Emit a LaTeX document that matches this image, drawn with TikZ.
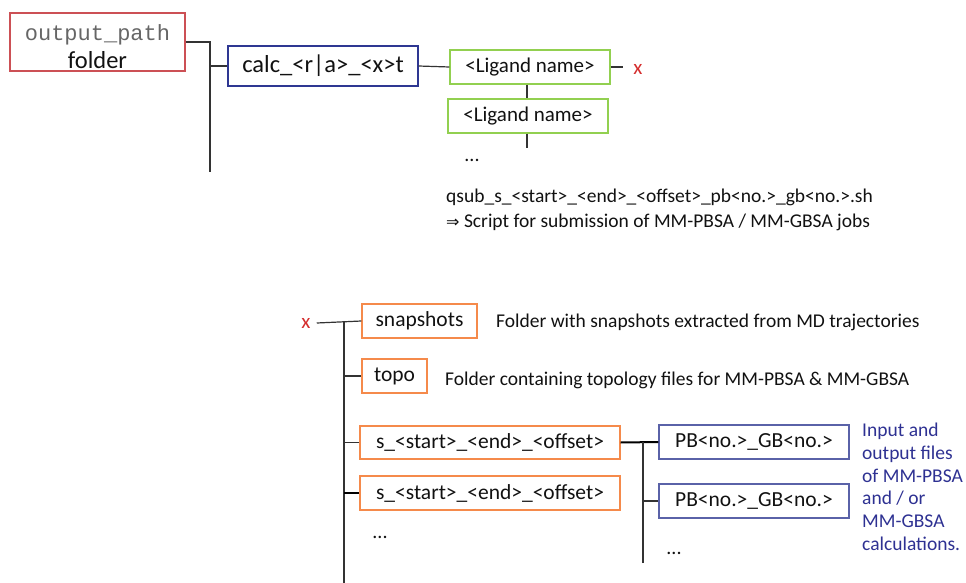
\documentclass[tikz,border=0pt]{standalone}
\usepackage{fontspec}
\setmainfont{Carlito}
\newfontfamily\monof{Liberation Mono}
\newfontfamily\djv{DejaVu Sans}
\definecolor{redb}{HTML}{CC5055}
\definecolor{blueb}{HTML}{2E3792}
\definecolor{greenb}{HTML}{92D050}
\definecolor{orangeb}{HTML}{F58A4B}
\definecolor{pbb}{HTML}{5A62A8}
\definecolor{navytxt}{HTML}{2E3192}
\definecolor{xred}{HTML}{D42E2E}
\definecolor{txt}{HTML}{111111}
\begin{document}
\begin{tikzpicture}[x=1pt,y=-1pt,
  box/.style={draw,line width=1.2pt,inner sep=0pt,text=txt,anchor=center,font=\fontsize{21.5}{24}\selectfont},
  conn/.style={line width=1.2pt,draw=black!80},
  thickconn/.style={line width=2pt,draw=black},
  note/.style={anchor=west,inner sep=0pt,text=txt,font=\fontsize{19.5}{22}\selectfont},
  dots/.style={inner sep=0pt,text=txt,font=\fontsize{20}{22}\selectfont},
  xmark/.style={inner sep=0pt,text=xred,font=\fontsize{21}{22}\selectfont},
]
\useasboundingbox (0,0) rectangle (966,583);
% top part
\node[box,draw=redb,minimum width=175pt,minimum height=58pt,align=center,font=\fontsize{24.5}{28}\selectfont] (out) at (97.5,42)
  {\rule{0pt}{26pt}{\monof\fontsize{22}{28}\selectfont\color{black!60}output\_path}\\folder};
\node[box,draw=blueb,minimum width=190pt,minimum height=40pt,font=\fontsize{24.5}{28}\selectfont] (calc) at (323,66) {calc\_<r|a>\_<x>t};
\node[box,draw=greenb,minimum width=160pt,minimum height=34pt,font=\fontsize{21}{24}\selectfont] (lig1) at (530,67) {<Ligand name>};
\node[box,draw=greenb,minimum width=160pt,minimum height=34pt,font=\fontsize{21}{24}\selectfont] (lig2) at (528,116) {<Ligand name>};
\node[xmark] (x1) at (638,69) {x};
\node[dots] (dots1) at (472,160) {...};
\coordinate (t1) at (210,172);
\coordinate (l2end) at (527,148);
\draw[conn] (out.east) -| (t1);
\draw[conn] (t1 |- calc.west) -- (calc.west);
\draw[conn] (calc.east) -- (lig1.west);
\draw[conn] (lig1.east) -- ++(12,0);
\draw[conn] (lig1.south -| l2end) -- (lig2.north -| l2end);
\draw[conn] (lig2.south -| l2end) -- (l2end);
\node[note] (qsub) at (446,197) {qsub\_s\_<start>\_<end>\_<offset>\_pb<no.>\_gb<no.>.sh};
\node[note] (script) at (446,222) {{\djv\fontsize{16}{18}\selectfont ⇒} Script for submission of MM-PBSA / MM-GBSA jobs};
% bottom part
\node[xmark] (x2) at (306,323) {x};
\node[box,draw=orangeb,minimum width=115pt,minimum height=34pt] (snap) at (419.5,321) {snapshots};
\node[box,draw=orangeb,minimum width=65pt,minimum height=34pt] (topo) at (394.5,376) {topo};
\node[box,draw=orangeb,minimum width=260pt,minimum height=33pt] (s1) at (490,442.5) {s\_<start>\_<end>\_<offset>};
\node[box,draw=orangeb,minimum width=260pt,minimum height=34pt] (s2) at (490,493) {s\_<start>\_<end>\_<offset>};
\node[dots] (dots2) at (380,537) {...};
\node[box,draw=pbb,minimum width=190pt,minimum height=34pt] (pb1) at (754,442) {PB<no.>\_GB<no.>};
\node[box,draw=pbb,minimum width=190pt,minimum height=34pt] (pb2) at (754,501) {PB<no.>\_GB<no.>};
\node[dots] (dots3) at (674,553) {...};
\node[note] (snapnote) at (496,322) {Folder with snapshots extracted from MD trajectories};
\node[note] (toponote) at (445,380) {Folder containing topology files for MM-PBSA \& MM-GBSA};
\node[anchor=north west,inner sep=0pt,align=left,text=navytxt,font=\fontsize{19.5}{22.7}\selectfont] (pbnote) at (862,423)
  {Input and\\output files\\of MM-PBSA\\and / or\\MM-GBSA\\calculations.};
\coordinate (t2) at (344,583);
\coordinate (t3) at (643,563);
\draw[conn] (x2.east) ++(6,0) -- (snap.west);
\draw[conn] (t2) -- (t2 |- snap.west);
\draw[conn] (t2 |- topo.west) -- (topo.west);
\draw[conn] (t2 |- s1.west) -- (s1.west);
\draw[thickconn] (t2 |- s2.west) -- (s2.west);
\draw[thickconn] (s1.east) -- (pb1.west);
\draw[conn] (t3) -- (t3 |- pb1.west);
\draw[conn] (t3 |- pb2.west) -- (pb2.west);
\end{tikzpicture}
\end{document}
